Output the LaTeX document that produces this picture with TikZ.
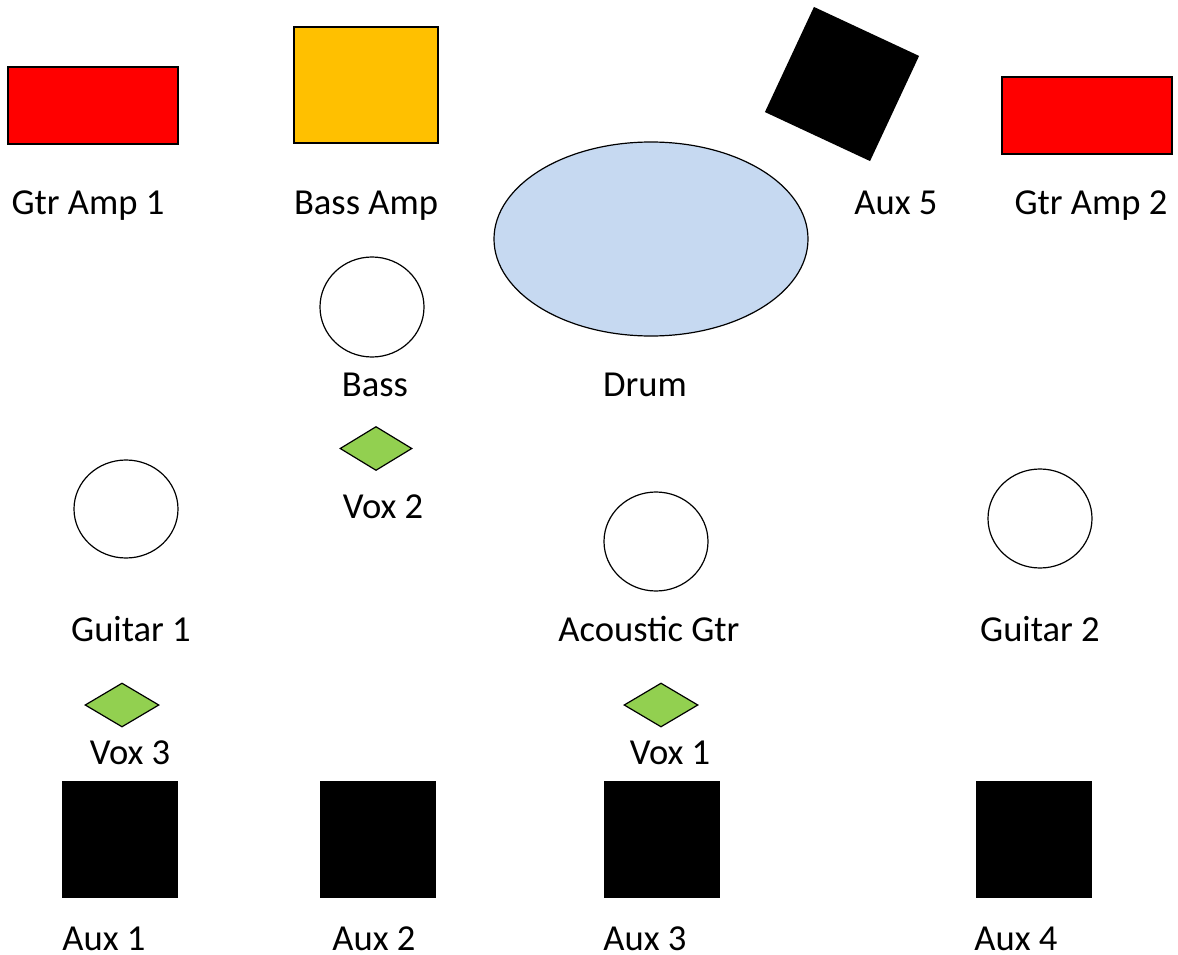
\documentclass[tikz,border=0pt]{standalone}
\usepackage{fontspec}
\setmainfont{Carlito}
\usetikzlibrary{shapes.geometric}
\definecolor{ampred}{HTML}{FF0000}
\definecolor{bassamber}{HTML}{FFC000}
\definecolor{drumblue}{HTML}{C6D9F1}
\definecolor{voxgreen}{HTML}{92D050}
\tikzset{
  amp/.style={draw, rectangle, line width=1.5pt, inner sep=0pt, fill=ampred, minimum width=170pt, minimum height=77pt},
  auxbox/.style={rectangle, fill=black, inner sep=0pt, minimum width=116pt, minimum height=117pt},
  player/.style={draw, ellipse, line width=1.2pt, inner sep=0pt, minimum width=104pt, minimum height=99pt},
  vox/.style={draw, diamond, line width=1.2pt, fill=voxgreen, inner sep=0pt, minimum width=74pt, minimum height=44pt},
  tag/.style={anchor=base, inner sep=0pt, font=\fontsize{36.6}{44}\selectfont}
}
\begin{document}
\begin{tikzpicture}[x=1pt, y=-1pt]
		\useasboundingbox (0,0) rectangle (1178,955);
		% back line
		\node (gamp1) [amp] at (93,105.5) {};
		\node (bamp) [amp, fill=bassamber, minimum width=144pt, minimum height=116pt] at (366,85) {};
		\node (aux5) [auxbox, minimum height=116pt, rotate=-25] at (842,84) {};
		\node (gamp2) [amp] at (1087,115.5) {};
		\node (drum) [draw, ellipse, line width=1.2pt, fill=drumblue, inner sep=0pt, minimum width=314pt, minimum height=194pt] at (651,239) {};
		\node (lgamp1) [tag] at (88,214) {Gtr Amp 1};
		\node (lbamp) [tag] at (366,214) {Bass Amp};
		\node (laux5) [tag] at (896,214) {Aux 5};
		\node (lgamp2) [tag] at (1091,214) {Gtr Amp 2};
		% players
		\node (bass) [player, minimum height=100pt] at (372,307) {};
		\node (lbass) [tag] at (375,396) {Bass};
		\node (ldrum) [tag] at (645,396) {Drum};
		\node (vox2) [vox, minimum width=72pt] at (376,448.5) {};
		\node (lvox2) [tag] at (383,518) {Vox 2};
		\node (gtr1) [player, minimum height=98pt] at (126,509) {};
		\node (acgtr) [player] at (656,541.5) {};
		\node (gtr2) [player] at (1040,518.5) {};
		\node (lgtr1) [tag] at (131,641) {Guitar 1};
		\node (lacgtr) [tag] at (649,641) {Acoustic Gtr};
		\node (lgtr2) [tag] at (1040,641) {Guitar 2};
		\node (vox3) [vox] at (122,705) {};
		\node (vox1) [vox] at (661,705) {};
		\node (lvox3) [tag] at (130,764) {Vox 3};
		\node (lvox1) [tag] at (670,764) {Vox 1};
		% front line
		\node (aux1) [auxbox] at (120,839.5) {};
		\node (aux2) [auxbox] at (378,839.5) {};
		\node (aux3) [auxbox] at (661.5,839.5) {};
		\node (aux4) [auxbox] at (1034,839.5) {};
		\node (laux1) [tag] at (104,950) {Aux 1};
		\node (laux2) [tag] at (374,950) {Aux 2};
		\node (laux3) [tag] at (645,950) {Aux 3};
		\node (laux4) [tag] at (1016,950) {Aux 4};
\end{tikzpicture}
\end{document}
